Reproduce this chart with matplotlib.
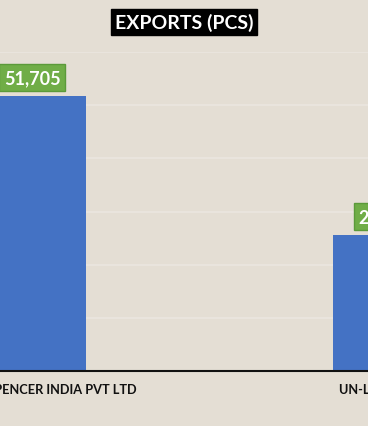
import matplotlib
matplotlib.use("Agg")
import matplotlib.pyplot as plt

categories = ["MARKS & SPENCER INDIA PVT LTD", "UN-LIMITED CO"]
values = [51705, 25580]
value_labels = ["51,705", "25,580"]
title = "EXPORTS (PCS)"

plt.rcParams['font.family'] = ['Lato', 'DejaVu Sans']

W, H = 368, 427
fig = plt.figure(figsize=(W / 100, H / 100), dpi=100)
bg = "#E4DED4"
fig.patch.set_facecolor(bg)

base_px = 372
top_px = 53
spacing = 355.0
x_left = -32 / spacing
x_right = 1.3
ax_w_px = (x_right - x_left) * spacing
ax = fig.add_axes([0, (H - base_px) / H, ax_w_px / W, (base_px - top_px) / H])
ax.set_facecolor(bg)

x = list(range(len(categories)))
ax.bar(x, values, width=108 / spacing, color="#4472C4", zorder=3)

ax.set_yticks(range(0, 60001, 10000))
ax.yaxis.grid(True, color="#EBE7E0", linewidth=1.1, zorder=0)
ax.tick_params(axis='y', left=False, labelleft=False)
ax.set_xticks(x)
ax.set_xticklabels(categories, fontsize=9.2, fontweight='bold', color="#111111")
ax.tick_params(axis='x', length=0, pad=8.5)
ax.set_xlim(x_left, x_right)
ax.set_ylim(0, 60000)

for s in ["left", "right", "top"]:
    ax.spines[s].set_visible(False)
ax.spines["bottom"].set_color("#111111")
ax.spines["bottom"].set_linewidth(1.5)
ax.spines["bottom"].set_zorder(4)

for xi, v, lab in zip(x, values, value_labels):
    ax.annotate(lab, xy=(xi, v), xytext=(0, 13.3), textcoords="offset points",
                ha="center", va="center", fontsize=13, fontweight="bold", color="white",
                bbox=dict(boxstyle="square,pad=0.28", facecolor="#70AD47",
                          edgecolor="#5B9A3A", linewidth=1),
                zorder=5, annotation_clip=False)

fig.text(184 / W, 1 - 23 / H, title, ha="center", va="center", fontsize=14,
         fontweight="bold", color="white",
         bbox=dict(boxstyle="square,pad=0.2", facecolor="black", edgecolor="black"))

fig.savefig("out.png", dpi=100, facecolor=bg)
